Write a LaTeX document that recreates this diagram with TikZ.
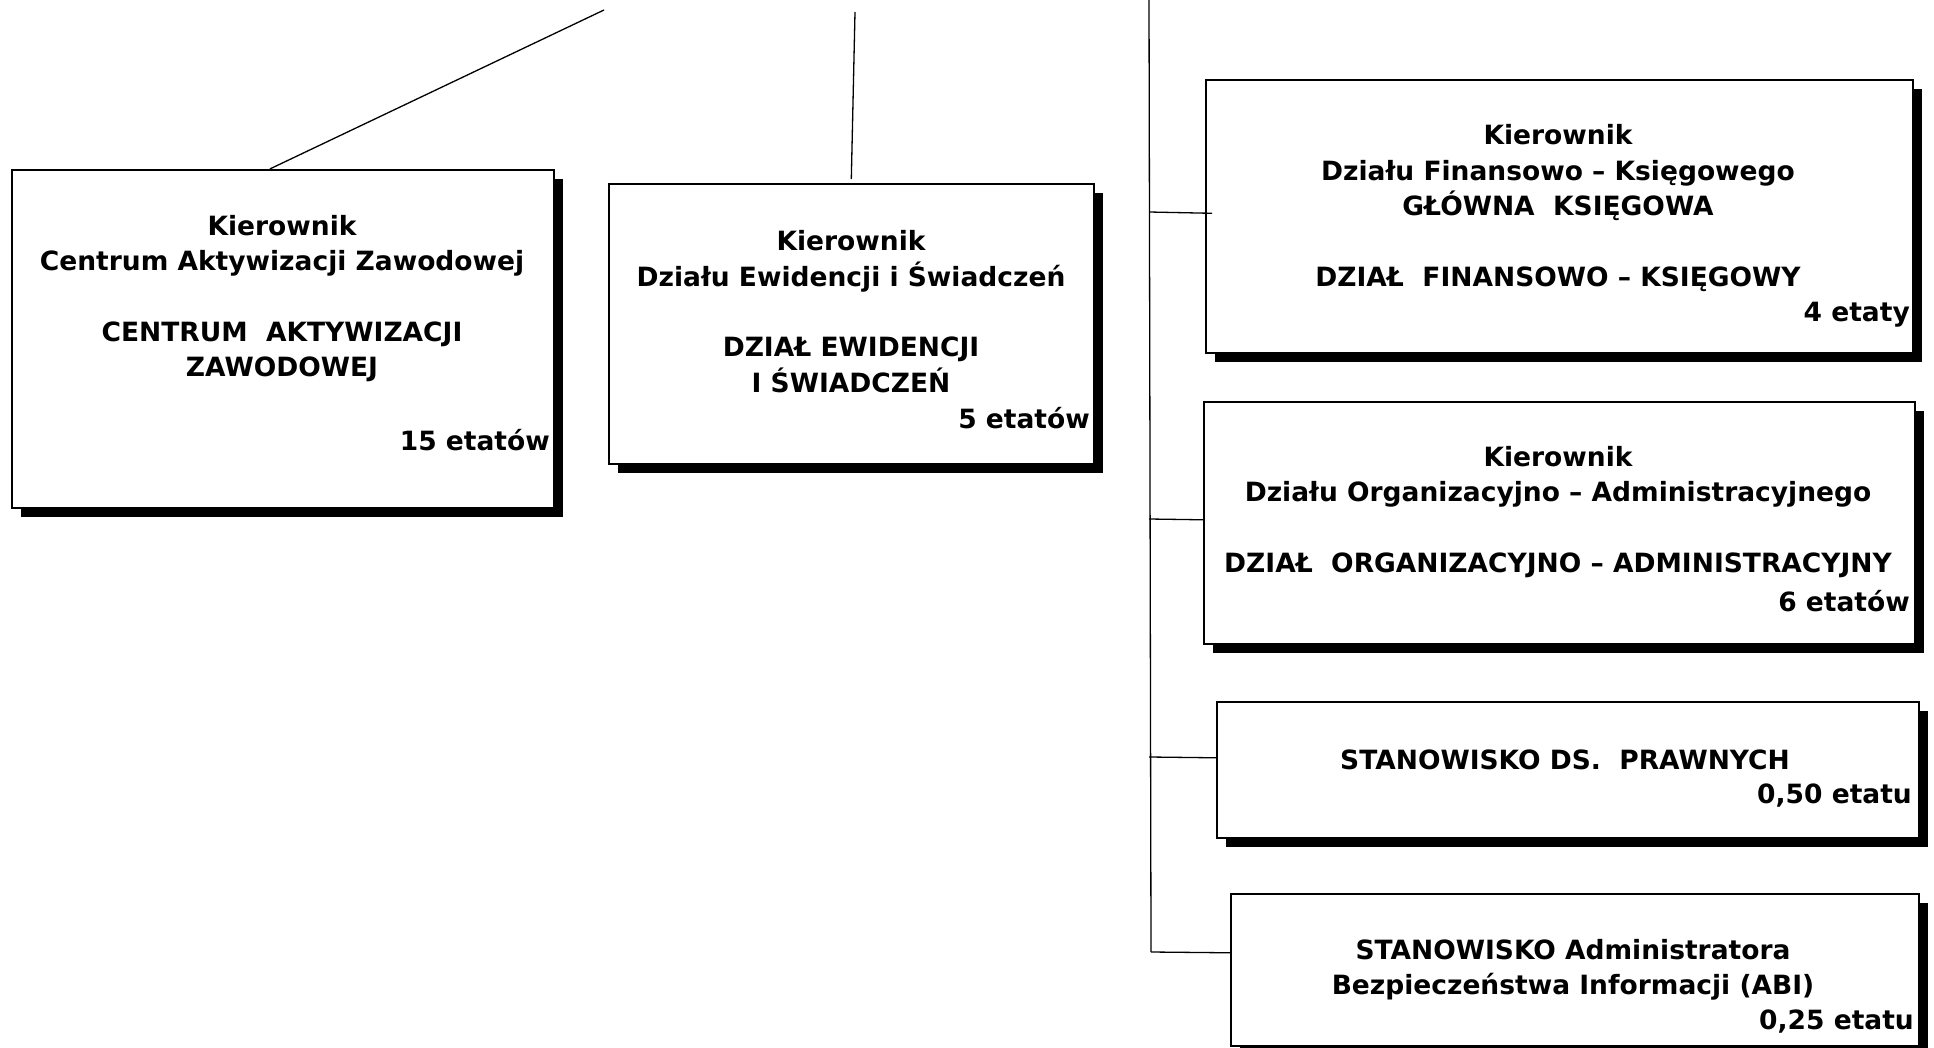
\documentclass[tikz,border=0pt]{standalone}
\usepackage{fontspec}
\setmainfont{DejaVu Sans}
\usepackage{tikz}
\usetikzlibrary{shadows}

\begin{document}
\begin{tikzpicture}[x=1pt,y=-1pt]
\tikzset{dzial/.style={draw,line width=1.6pt,fill=white,anchor=north west,inner sep=0pt,drop shadow={shadow xshift=9pt,shadow yshift=-9pt,opacity=1,fill=black}},
opis/.style={align=center,inner sep=0pt,font=\bfseries\fontsize{26.5}{35.5}\selectfont},
etat/.style={anchor=east,inner sep=0pt,font=\bfseries\fontsize{26.5}{35.5}\selectfont},
linia/.style={line width=1.3pt}}
\useasboundingbox (0,0) rectangle (1934,1048);

\node[dzial,minimum width=542pt,minimum height=338pt] (caz) at (11,169) {};
\node[dzial,minimum width=485pt,minimum height=280pt] (dew) at (608,183) {};
\node[dzial,minimum width=707pt,minimum height=273pt] (dfk) at (1205,79) {};
\node[dzial,minimum width=711pt,minimum height=242pt] (doa) at (1203,401) {};
\node[dzial,minimum width=702pt,minimum height=136pt] (sdp) at (1216,701) {};
\node[dzial,minimum width=688pt,minimum height=152pt] (abi) at (1230,893) {};

\node[opis] (cazt) at (282,298.5) {Kierownik\\Centrum Aktywizacji Zawodowej\\[35pt]CENTRUM\ \ AKTYWIZACJI\\ZAWODOWEJ};
\node[etat] (caze) at (550,440) {15 etatów};
\node[opis] (dewt) at (851,311.5) {Kierownik\\Działu Ewidencji i Świadczeń\\[35pt]DZIAŁ EWIDENCJI\\I ŚWIADCZEŃ};
\node[etat] (dewe) at (1090,418) {5 etatów};
\node[opis] (dfkt) at (1558,208) {Kierownik\\Działu Finansowo -- Księgowego\\GŁÓWNA\ \ KSIĘGOWA\\[35pt]DZIAŁ\ \ FINANSOWO -- KSIĘGOWY};
\node[etat] (dfke) at (1910,315) {4 etaty};
\node[opis] (doat) at (1558,512) {Kierownik\\Działu Organizacyjno -- Administracyjnego\\[35pt]DZIAŁ\ \ ORGANIZACYJNO -- ADMINISTRACYJNY};
\node[etat] (doae) at (1910,601) {6 etatów};
\node[opis] (sdpt) at (1565,760) {STANOWISKO DS.\ \ PRAWNYCH};
\node[etat] (sdpe) at (1912,796) {0,50 etatu};
\node[opis] (abit) at (1573,970) {STANOWISKO Administratora\\Bezpieczeństwa Informacji (ABI)};
\node[etat] (abie) at (1914,1022) {0,25 etatu};

\coordinate (g1) at (604,10);
\coordinate (g2) at (855,12);
\coordinate (g3) at (1149,0);
\coordinate (g4) at (1151,952);
\draw[linia] (g1) -- ([xshift=-13pt]caz.north);
\draw[linia] (g2) -- ([yshift=4pt]dew.north);
\draw[linia] (g3) -- (g4);
\draw[linia] (g3 |- 0,212) -- ([yshift=3pt,xshift=7pt]dfk.west);
\draw[linia] (g3 |- 0,519) -- ([yshift=3pt]doa.west);
\draw[linia] (g3 |- 0,757) -- ([yshift=12pt]sdp.west);
\draw[linia] (g4) -- ([yshift=17pt]abi.west);
\end{tikzpicture}
\end{document}
